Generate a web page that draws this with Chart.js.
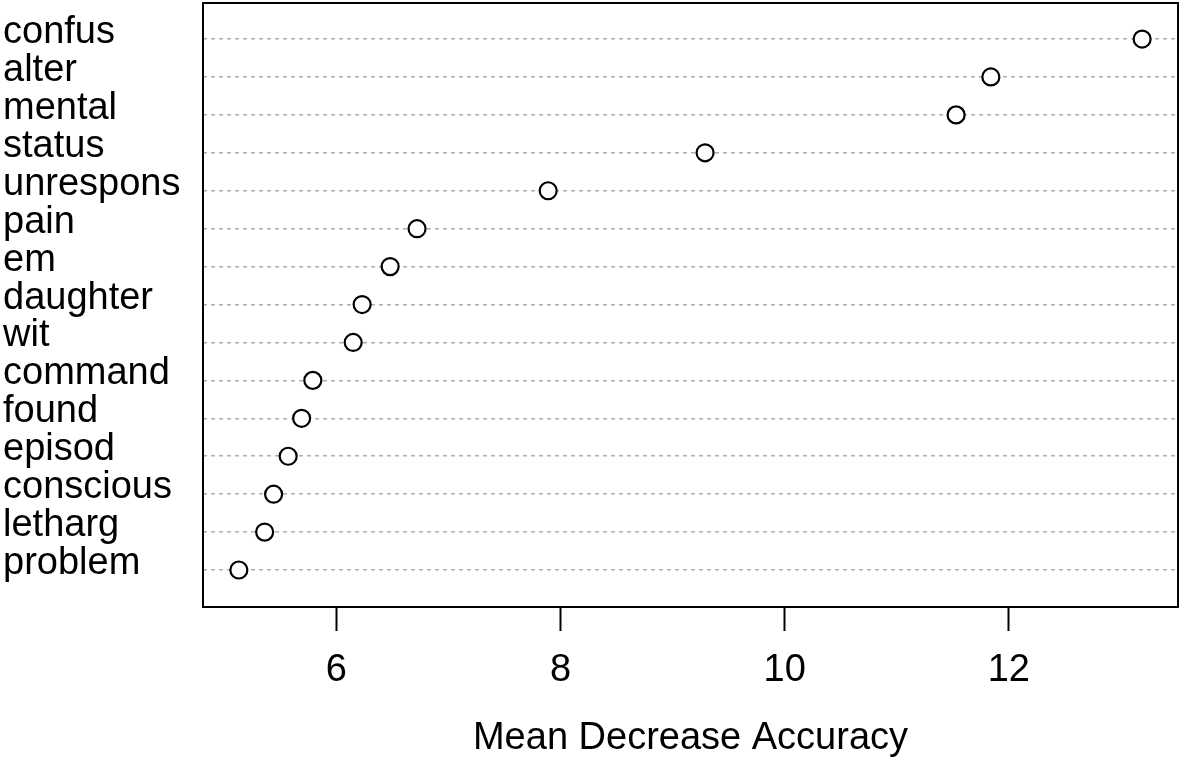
<!DOCTYPE html>
<html>
<head>
<meta charset="utf-8">
<script src="https://cdn.jsdelivr.net/npm/chart.js@4.4.0/dist/chart.umd.min.js"></script>
<style>
  body { margin: 0; background: #fff; }
  #wrap { width: 1181px; height: 758px; }
</style>
</head>
<body>
<div id="wrap"><canvas id="importanceChart" width="1181" height="758"></canvas></div>
<script>
// terms, top row first
const terms = ['confus', 'alter', 'mental', 'status', 'unrespons', 'pain', 'em', 'daughter',
    'wit', 'command', 'found', 'episod', 'conscious', 'letharg', 'problem'];
const accuracy = [13.19, 11.84, 11.53, 9.29, 7.89, 6.72, 6.48, 6.23,
    6.15, 5.79, 5.69, 5.57, 5.44, 5.36, 5.13];
const xTicks = [6, 8, 10, 12];

const FONT = "'Liberation Sans', Arial, Helvetica, sans-serif";

// row 1 is the bottom term, like R's dotchart
const points = terms.map((t, i) => ({ x: accuracy[i], y: terms.length - i }));

// box round the plot region
const boxPlugin = {
    id: 'box',
    afterDraw(chart) {
        const a = chart.chartArea;
        const ctx = chart.ctx;
        ctx.save();
        ctx.strokeStyle = '#000';
        ctx.lineWidth = 2;
        ctx.strokeRect(a.left, a.top, a.right - a.left, a.bottom - a.top);
        ctx.restore();
    }
};

function noPadding(scale) {
    scale.paddingTop = 0;
    scale.paddingBottom = 0;
    scale.paddingLeft = 0;
    scale.paddingRight = 0;
}

new Chart(document.getElementById('importanceChart').getContext('2d'), {
    type: 'scatter',
    data: {
        datasets: [{
            label: 'Mean Decrease Accuracy',
            data: points,
            pointRadius: 8.5,
            pointHoverRadius: 8.5,
            pointBorderWidth: 2.2,
            pointBackgroundColor: '#fff',
            pointBorderColor: '#000'
        }]
    },
    options: {
        responsive: false,
        animation: false,
        layout: { autoPadding: false, padding: { top: 3, right: 3, left: 3, bottom: 0 } },
        plugins: {
            legend: { display: false },
            tooltip: { enabled: false }
        },
        scales: {
            x: {
                type: 'linear',
                min: 4.81,
                max: 13.51,
                afterBuildTicks: scale => { scale.ticks = xTicks.map(v => ({ value: v })); },
                afterFit: scale => { scale.height = 151; noPadding(scale); },
                grid: {
                    drawOnChartArea: false,
                    drawTicks: true,
                    tickLength: 24,
                    tickWidth: 2,
                    tickColor: '#000'
                },
                border: { display: false },
                ticks: {
                    color: '#000',
                    padding: 17,
                    maxRotation: 0,
                    font: { family: FONT, size: 38, lineHeight: 1.2 }
                },
                title: {
                    display: true,
                    text: 'Mean Decrease Accuracy',
                    color: '#000',
                    padding: { top: 0, bottom: 0 },
                    font: { family: FONT, size: 38, lineHeight: 1 }
                }
            },
            y: {
                type: 'linear',
                min: 0.025,
                max: 15.95,
                afterBuildTicks: scale => {
                    scale.ticks = terms.map((t, i) => ({ value: i + 1 }));
                },
                afterFit: scale => { scale.width = 200; noPadding(scale); },
                grid: {
                    color: '#adadad',
                    lineWidth: 1.5,
                    drawTicks: false
                },
                border: { display: false, dash: [4, 4] },
                ticks: {
                    color: '#000',
                    crossAlign: 'far',
                    padding: 0,
                    // empty second line nudges the text up a little
                    callback: v => [terms[terms.length - v], ''],
                    font: { family: FONT, size: 38, lineHeight: '13px' }
                }
            }
        }
    },
    plugins: [boxPlugin]
});
</script>
</body>
</html>
